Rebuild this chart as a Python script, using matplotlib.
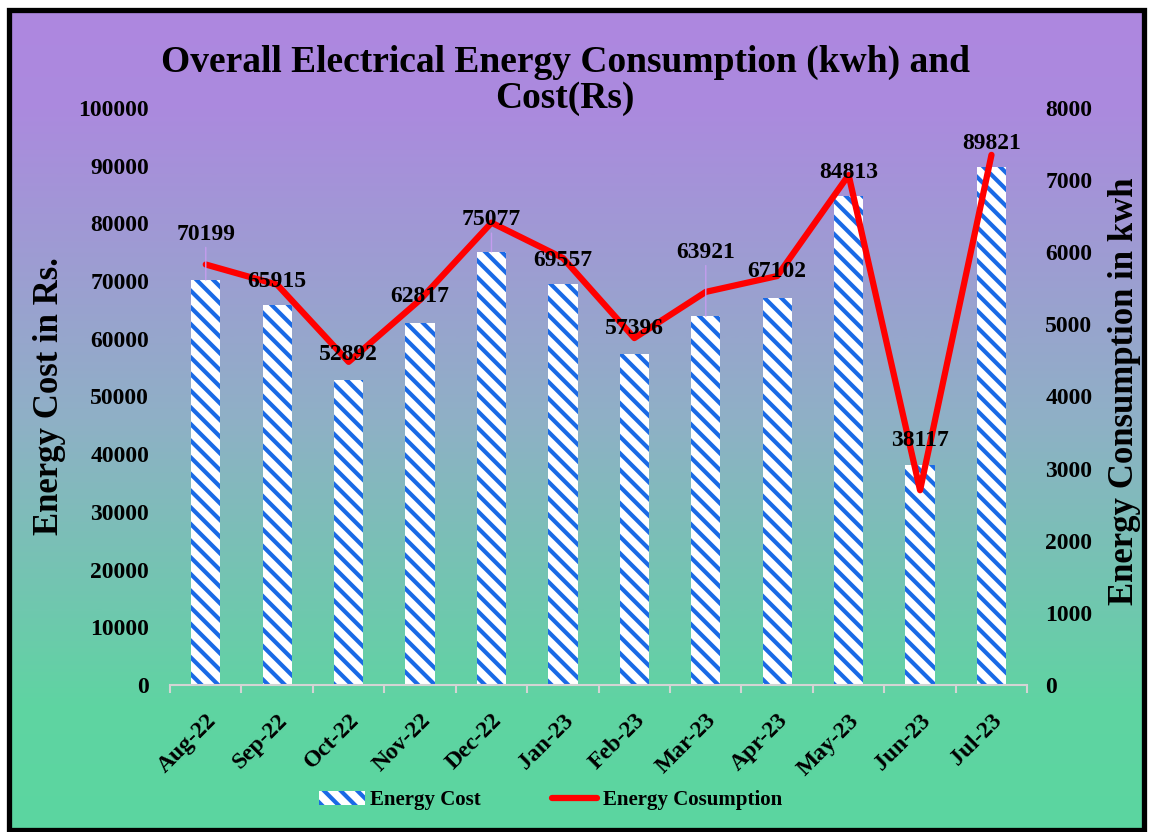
import numpy as np
import matplotlib.pyplot as plt
from matplotlib.patches import Patch, Rectangle
from matplotlib.lines import Line2D
from matplotlib.colors import LinearSegmentedColormap

# Datos do gráfico
meses = ["Aug-22", "Sep-22", "Oct-22", "Nov-22", "Dec-22", "Jan-23",
         "Feb-23", "Mar-23", "Apr-23", "May-23", "Jun-23", "Jul-23"]
custo = [70199, 65915, 52892, 62817, 75077, 69557,
         57396, 63921, 67102, 84813, 38117, 89821]
consumo = [5830, 5550, 4480, 5340, 6410, 5920,
           4810, 5450, 5670, 7070, 2700, 7350]

# Desprazamento das etiquetas sobre as barras (puntos)
desprazamento = [33, 17, 18, 19, 23, 17, 18, 46, 19, 17, 18, 17]

plt.rcParams['font.family'] = ['Liberation Serif', 'DejaVu Serif']
plt.rcParams['font.weight'] = 'bold'
plt.rcParams['hatch.linewidth'] = 3.0

azul = "#1a6ae6"
vermello = "#ff0000"

fig = plt.figure(figsize=(11.49, 8.32), dpi=100)

# Fondo con degradado e marco negro
fondo = fig.add_axes([0, 0, 1, 1], zorder=-10)
fondo.set_xlim(0, 1149)
fondo.set_ylim(832, 0)
fondo.axis("off")
cmap = LinearSegmentedColormap.from_list(
    "fondo", [(0.0, "#ae87e0"), (0.12, "#ab8ade"), (0.5, "#8fb0c6"),
              (0.85, "#5fd4a2"), (1.0, "#5bd6a0")])
grad = np.linspace(0, 1, 400).reshape(-1, 1)
fondo.imshow(grad, cmap=cmap, aspect="auto", extent=[9, 1143, 829, 9])
fondo.add_patch(Rectangle((8.5, 9.5), 1135, 820, fill=False,
                          edgecolor="black", linewidth=3.8))

# Eixo principal: custo
ax = fig.add_axes([0.148, 0.1767, 0.746, 0.6935])
ax.patch.set_alpha(0)
x = np.arange(len(meses))
ax.bar(x, custo, width=0.41, facecolor="white", edgecolor=azul,
       hatch="\\\\", linewidth=0, zorder=2)
ax.set_xlim(-0.5, len(meses) - 0.5)
ax.set_ylim(0, 100000)
ax.set_yticks(np.arange(0, 100001, 10000))
ax.tick_params(axis="y", length=0, pad=15, labelsize=17)

ax.set_xticks(x)
ax.set_xticklabels(meses, rotation=45, ha="right", rotation_mode="anchor",
                   fontsize=17)
ax.tick_params(axis="x", which="major", length=0, pad=18)
ax.set_xticks(np.arange(-0.5, len(meses), 1), minor=True)
ax.tick_params(axis="x", which="minor", length=6, width=1.5, color="#d4d4d4")
for lado in ["top", "left", "right"]:
    ax.spines[lado].set_visible(False)
ax.spines["bottom"].set_color("#d4d4d4")
ax.spines["bottom"].set_linewidth(1.5)

# Eixo secundario: consumo
ax2 = ax.twinx()
ax2.plot(x, consumo, color=vermello, linewidth=4.5,
         solid_capstyle="round", solid_joinstyle="round")
ax2.set_ylim(0, 8000)
ax2.set_yticks(np.arange(0, 8001, 1000))
ax2.tick_params(axis="y", length=0, pad=13, labelsize=17)
for lado in ["top", "left", "right", "bottom"]:
    ax2.spines[lado].set_visible(False)

# Etiquetas de valor
for i, v in enumerate(custo):
    props = None
    if desprazamento[i] > 22:
        props = dict(arrowstyle="-", color="#c49cee", lw=1.0,
                     shrinkA=0, shrinkB=0)
    ax2.annotate(str(v), xy=(i, v), xycoords=ax.transData,
                 xytext=(0, desprazamento[i]), textcoords="offset points",
                 ha="center", va="center", fontsize=17, zorder=5,
                 arrowprops=props)

# Títulos de eixos e título xeral
fig.text(0.0435, 0.524, "Energy Cost in Rs.", rotation=90,
         ha="center", va="center", fontsize=25, fontweight="bold")
fig.text(0.979, 0.530, "Energy Consumption in kwh", rotation=90,
         ha="center", va="center", fontsize=25, fontweight="bold")
fig.text(0.492, 0.946, "Overall Electrical Energy Consumption (kwh) and\nCost(Rs)",
         ha="center", va="top", fontsize=27, linespacing=1.02)

man = [Patch(facecolor="white", edgecolor=azul, hatch="\\\\", linewidth=0),
       Line2D([0], [0], color=vermello, linewidth=4.5, solid_capstyle="round")]
fig.legend(man, ["Energy Cost", "Energy Cosumption"], loc="center",
           bbox_to_anchor=(0.479, 0.038), ncol=2, frameon=False,
           fontsize=15, handlelength=2.2, handletextpad=0.25, columnspacing=3.4)

fig.savefig("out.png", dpi=100)
